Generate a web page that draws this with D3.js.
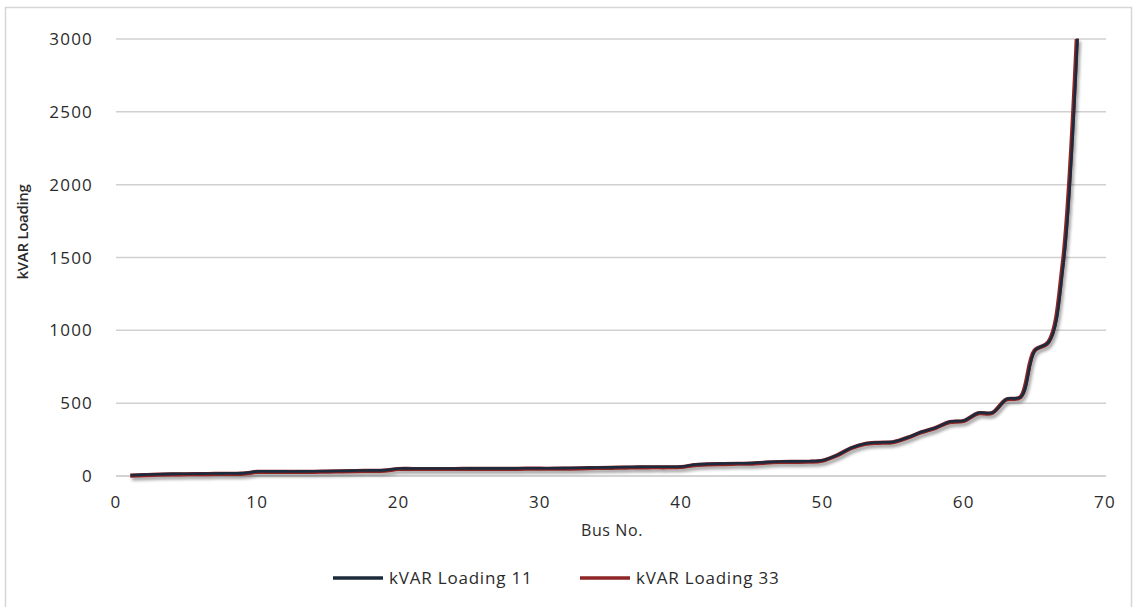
<!DOCTYPE html>
<html>
<head>
<meta charset="utf-8">
<script src="https://d3js.org/d3.v7.min.js"></script>
<style>
  html, body { margin: 0; padding: 0; background: #fff; }
  svg { display: block; }
  text { font-family: "Open Sans", "DejaVu Sans", sans-serif; fill: #2b2b2b; }
</style>
</head>
<body>
<svg id="chart" width="1135" height="607"></svg>
<script>
// ---- Data ----
const busNo = [1,2,3,4,5,6,7,8,9,10,11,12,13,14,15,16,17,18,19,20,
  21,22,23,24,25,26,27,28,29,30,31,32,33,34,35,36,37,38,39,40,
  41,42,43,44,45,46,47,48,49,50,51,52,53,54,55,56,57,58,59,60,
  61,62,63,64,65,66,67,68];
const kvar11 = [2,6,9,11,12,13,14,15,16,28,28,28,28,29,30,32,34,35,37,48,
  48,48,48,48,49,49,49,49,50,50,50,51,53,55,56,58,59,60,60,62,
  75,80,82,84,85,92,96,97,98,105,140,190,220,228,232,262,300,330,370,378,
  430,432,525,540,860,920,1450,3000];
const kvar33 = [2,6,9,11,12,13,14,15,16,28,28,28,28,29,30,32,34,35,37,48,
  48,48,48,48,49,49,49,49,50,50,50,51,53,55,56,58,59,60,60,62,
  75,80,82,84,85,92,96,97,98,105,140,190,220,228,232,262,300,330,370,378,
  430,432,525,540,860,920,1450,3000];
const xTicks = [0,10,20,30,40,50,60,70];
const yTicks = [0,500,1000,1500,2000,2500,3000];
const seriesNames = ["kVAR Loading 11", "kVAR Loading 33"];
const seriesColors = ["#1c2b3c", "#8e2626"];
const xTitle = "Bus No.";
const yTitle = "kVAR Loading";

// ---- Layout ----
const svg = d3.select("#chart");
const x = d3.scaleLinear().domain([0, 70]).range([116, 1105]);
const y = d3.scaleLinear().domain([0, 3000]).range([476, 39]);

// outer border
svg.append("rect").attr("x", 5.5).attr("y", 7.5).attr("width", 1126).attr("height", 620)
  .attr("fill", "none").attr("stroke", "#d6d6d6").attr("stroke-width", 1.5);

// shadow filter
const defs = svg.append("defs");
const f = defs.append("filter").attr("id", "shadow").attr("x", "-5%").attr("y", "-5%")
  .attr("width", "110%").attr("height", "120%");
f.append("feDropShadow").attr("dx", 2).attr("dy", 3).attr("stdDeviation", 1.8)
  .attr("flood-color", "#000").attr("flood-opacity", 0.35);

// gridlines
svg.append("g").selectAll("line").data(yTicks).join("line")
  .attr("x1", 116).attr("x2", 1106)
  .attr("y1", d => y(d)).attr("y2", d => y(d))
  .attr("stroke", d => d === 0 ? "#c4c4c4" : "#d0d0d0").attr("stroke-width", 1.5);

// y tick labels
svg.append("g").selectAll("text").data(yTicks).join("text")
  .attr("x", 93).attr("y", d => y(d)).attr("dy", "0.36em")
  .attr("text-anchor", "end").attr("font-size", 17).attr("letter-spacing", 1.2)
  .text(d => d);

// x tick labels
svg.append("g").selectAll("text").data(xTicks).join("text")
  .attr("x", d => x(d)).attr("y", 508)
  .attr("text-anchor", "middle").attr("font-size", 17).attr("letter-spacing", 1.2)
  .text(d => d);

// axis titles
svg.append("text").attr("x", 612).attr("y", 536).attr("text-anchor", "middle")
  .attr("font-size", 16).attr("letter-spacing", 0.6).text(xTitle);
svg.append("text").attr("transform", "translate(28,232) rotate(-90)")
  .attr("text-anchor", "middle").attr("font-size", 15).attr("font-weight", 600)
  .attr("letter-spacing", -0.3).text(yTitle);

// lines
const line = d3.line().x(d => x(d[0])).y(d => y(d[1])).curve(d3.curveCatmullRom.alpha(0.5));
const pts11 = busNo.map((b, i) => [b, kvar11[i]]);
const pts33 = busNo.map((b, i) => [b, kvar33[i]]);
const lg = svg.append("g").attr("filter", "url(#shadow)");
lg.append("path").attr("d", line(pts33)).attr("fill", "none")
  .attr("stroke", seriesColors[1]).attr("stroke-width", 4.2).attr("stroke-linejoin", "round");
lg.append("path").attr("d", line(pts11)).attr("fill", "none")
  .attr("stroke", seriesColors[0]).attr("stroke-width", 2.6).attr("stroke-linejoin", "round")
  .attr("transform", "translate(0.8,-0.5)");

// legend
const legendItems = [
  {name: seriesNames[0], color: seriesColors[0], x: 333},
  {name: seriesNames[1], color: seriesColors[1], x: 580}
];
const leg = svg.append("g").selectAll("g").data(legendItems).join("g");
leg.append("line").attr("x1", d => d.x).attr("x2", d => d.x + 50)
  .attr("y1", 578).attr("y2", 578)
  .attr("stroke", d => d.color).attr("stroke-width", 3.5);
leg.append("text").attr("x", d => d.x + 56).attr("y", 578).attr("dy", "0.36em")
  .attr("font-size", 17).attr("letter-spacing", 0.8).text(d => d.name);
</script>
</body>
</html>
